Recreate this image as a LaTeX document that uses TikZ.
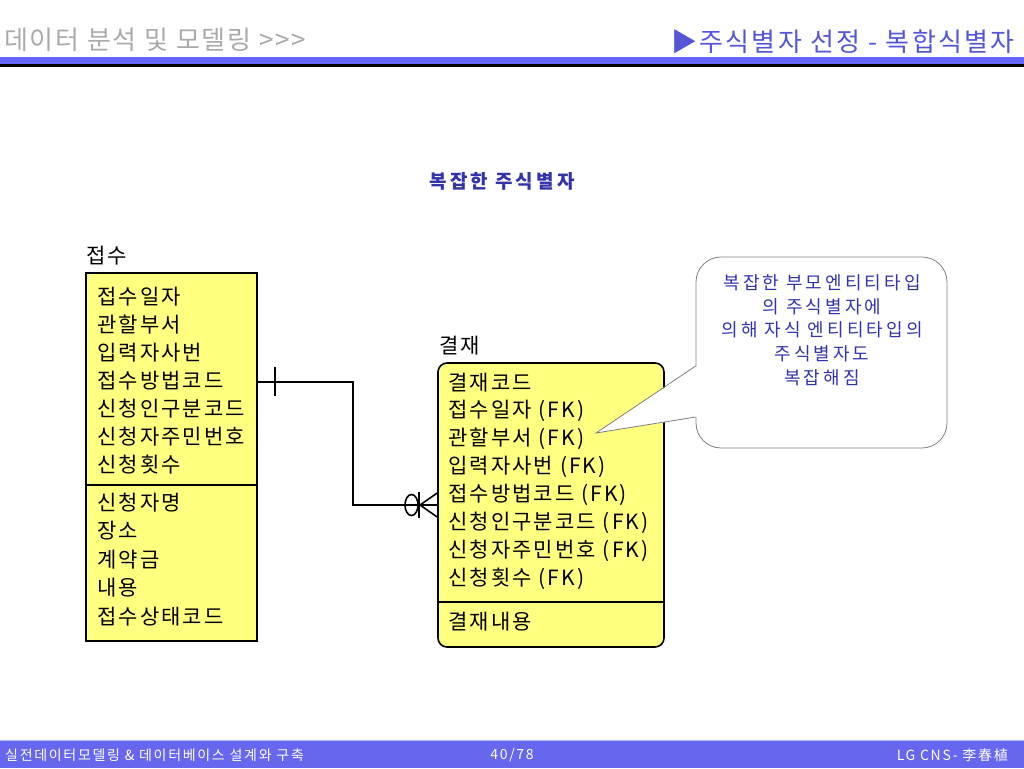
\documentclass[tikz,border=0pt]{standalone}
\usepackage{fontspec}
\newfontfamily\krfont{Noto Sans CJK KR}
\newcommand{\hdfont}   {\krfont\fontsize{26}{26}\selectfont\addfontfeature{LetterSpace=7}}
\newcommand{\attrfont} {\krfont\fontsize{21}{21}\selectfont\addfontfeature{LetterSpace=10}}
\newcommand{\notefont} {\krfont\fontsize{18}{18}\selectfont\addfontfeature{LetterSpace=17}}
\newcommand{\ftrfont}  {\krfont\fontsize{14}{14}\selectfont\addfontfeature{LetterSpace=12}}
\definecolor{hdgray}{RGB}{170,170,170}
\definecolor{hdblue}{RGB}{85,85,215}
\definecolor{bandblue}{RGB}{102,102,255}
\definecolor{footblue}{RGB}{102,102,238}
\definecolor{noteblue}{RGB}{51,51,170}
\definecolor{entyellow}{RGB}{255,255,128}

\begin{document}
\begin{tikzpicture}[x=1pt,y=-1pt,
   attr/.style={anchor=west,inner sep=0pt,font=\attrfont},
   entbox/.style={draw=black,line width=1.6pt,fill=entyellow,inner sep=0pt},
   notetext/.style={inner sep=0pt,font=\notefont,text=noteblue},
   rel/.style={line width=1.6pt}]
   \useasboundingbox (0,0) rectangle (1024,768);
   % header
   \fill[bandblue] (0,57.5) rectangle (1024,63.5);
   \fill[black] (0,63.5) rectangle (1024,66.5);
   \node[anchor=west,inner sep=0pt,font=\hdfont,text=hdgray] (hdleft) at (4,40) {데이터 분석 및 모델링 >>>};
   \node[anchor=east,inner sep=0pt,font=\hdfont\addfontfeature{LetterSpace=9},text=hdblue] (hdright) at (1015,42) {▶주식별자 선정 - 복합식별자};
   % title
   \node[inner sep=0pt,font=\krfont\bfseries\fontsize{19}{19}\selectfont\addfontfeature{LetterSpace=16},text=noteblue] (title) at (502,181) {복잡한 주식별자};

   % entity: 접수
   \node[anchor=west,inner sep=0pt,font=\attrfont] (jlabel) at (86,256) {접수};
   \node[entbox,minimum width=171pt,minimum height=368pt] (jeopsu) at (171.5,457) {};
   \draw[line width=1.6pt] (jeopsu.west |- 0,485) -- (jeopsu.east |- 0,485);
   \node[attr] (j1) at (97,297) {접수일자};
   \node[attr] (j2) at (97,325) {관할부서};
   \node[attr] (j3) at (97,353) {입력자사번};
   \node[attr] (j4) at (97,381) {접수방법코드};
   \node[attr] (j5) at (97,409) {신청인구분코드};
   \node[attr] (j6) at (97,437) {신청자주민번호};
   \node[attr] (j7) at (97,465) {신청횟수};
   \node[attr] (j8) at (97,503) {신청자명};
   \node[attr] (j9) at (97,531) {장소};
   \node[attr] (j10) at (97,560) {계약금};
   \node[attr] (j11) at (97,588) {내용};
   \node[attr] (j12) at (97,617) {접수상태코드};

   % entity: 결재
   \node[anchor=west,inner sep=0pt,font=\attrfont] (glabel) at (439,346) {결재};
   \node[entbox,rounded corners=9pt,minimum width=226pt,minimum height=284pt] (gyeolje) at (551,505) {};
   \draw[line width=1.6pt] (gyeolje.west |- 0,602) -- (gyeolje.east |- 0,602);
   \node[attr] (g1) at (448,383) {결재코드};
   \node[attr] (g2) at (448,411) {접수일자 (FK)};
   \node[attr] (g3) at (448,439) {관할부서 (FK)};
   \node[attr] (g4) at (448,467) {입력자사번 (FK)};
   \node[attr] (g5) at (448,495) {접수방법코드 (FK)};
   \node[attr] (g6) at (448,523) {신청인구분코드 (FK)};
   \node[attr] (g7) at (448,551) {신청자주민번호 (FK)};
   \node[attr] (g8) at (448,579) {신청횟수 (FK)};
   \node[attr] (g9) at (448,622) {결재내용};

   % relationship 접수 -> 결재
   \coordinate (rfrom) at (jeopsu.east |- 0,382);
   \coordinate (rto) at (gyeolje.west |- 0,505);
   \draw[rel] (rfrom) -| (353,505) -- (rto);
   \draw[rel] (275,367) -- (275,396);
   \draw[rel] (411.5,505) ellipse (6.5 and 10.5);
   \draw[rel] (419,492) -- (419,518);
   \draw[rel] (420,505) -- (rto |- 0,493);
   \draw[rel] (420,505) -- (rto |- 0,517);

   % note
   \node[draw=gray,line width=0.8pt,fill=white,rounded corners=25pt,minimum width=251pt,minimum height=191pt] (note) at (821.5,352.5) {};
   \coordinate (tip) at (596,433);
   \fill[white] (697.5,366) -- (tip) -- (697.5,417) -- cycle;
   \draw[gray,line width=0.8pt] (note.west |- 0,366) -- (tip) -- (note.west |- 0,417);
   \node[notetext] (n1) at (822,283) {복잡한 부모엔티티타입};
   \node[notetext] (n2) at (822,307) {의 주식별자에};
   \node[notetext] (n3) at (822,330) {의해 자식 엔티티타입의};
   \node[notetext] (n4) at (822,354) {주식별자도};
   \node[notetext] (n5) at (822,378) {복잡해짐};

   % footer
   \fill[footblue] (0,741) rectangle (1024,768);
   \draw[color=bandblue!50] (0,740.5) -- (1024,740.5);
   \node[anchor=west,inner sep=0pt,font=\ftrfont,text=white] (fleft) at (5,755) {실전데이터모델링 \& 데이터베이스 설계와 구축};
   \node[inner sep=0pt,font=\ftrfont,text=white] (fpage) at (512,755) {40/78};
   \node[anchor=east,inner sep=0pt,font=\ftrfont,text=white] (fright) at (1008,755) {LG CNS- 李春植};
\end{tikzpicture}
\end{document}
